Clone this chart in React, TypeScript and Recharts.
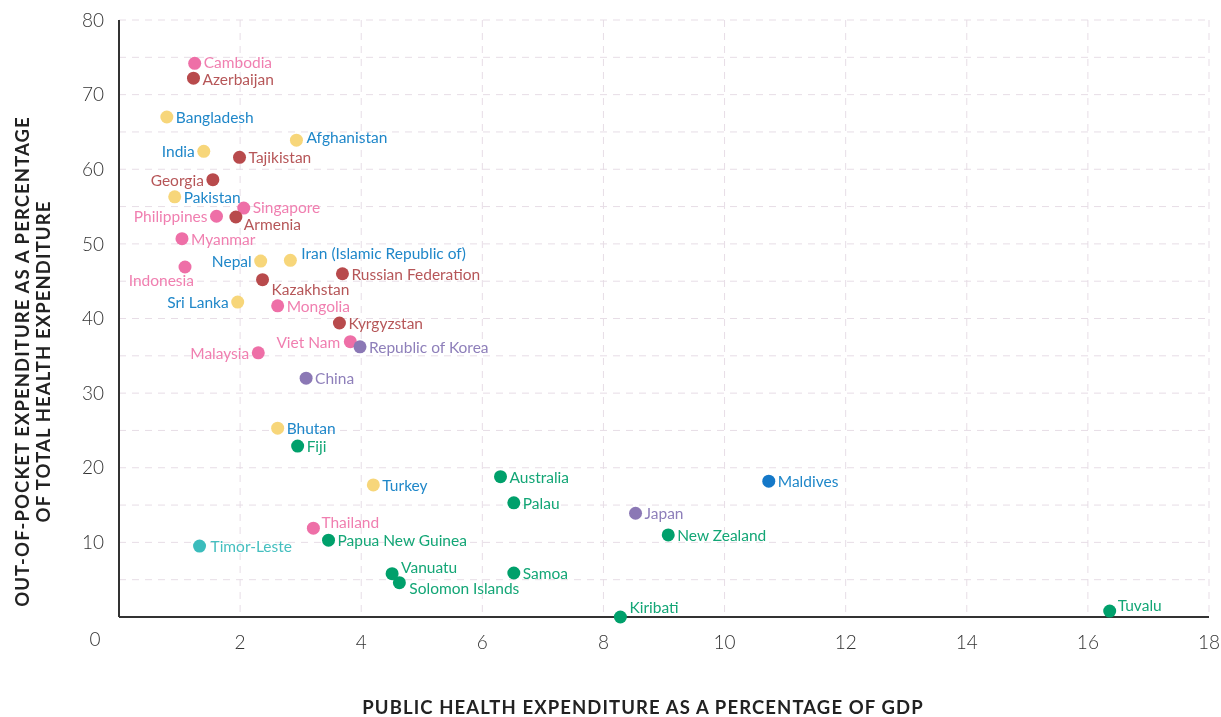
import React from 'react';
import { ScatterChart, Scatter, XAxis, YAxis, CartesianGrid } from 'recharts';

// Public health expenditure (% of GDP) vs out-of-pocket expenditure (% of total health expenditure)
const southAsiaNames = ['Bangladesh', 'Afghanistan', 'India', 'Pakistan', 'Nepal', 'Iran (Islamic Republic of)', 'Sri Lanka', 'Bhutan', 'Turkey'];
const southAsiaPublic = [0.79, 2.93, 1.4, 0.92, 2.34, 2.83, 1.96, 2.62, 4.2];
const southAsiaOop = [67.0, 63.9, 62.4, 56.3, 47.7, 47.8, 42.2, 25.3, 17.7];

const maldivesNames = ['Maldives'];
const maldivesPublic = [10.73];
const maldivesOop = [18.2];

const southeastNames = ['Cambodia', 'Singapore', 'Philippines', 'Myanmar', 'Indonesia', 'Mongolia', 'Viet Nam', 'Malaysia', 'Thailand'];
const southeastPublic = [1.25, 2.06, 1.61, 1.04, 1.09, 2.62, 3.82, 2.3, 3.21];
const southeastOop = [74.2, 54.8, 53.7, 50.7, 46.9, 41.7, 36.9, 35.4, 11.9];

const centralNames = ['Azerbaijan', 'Tajikistan', 'Georgia', 'Armenia', 'Russian Federation', 'Kazakhstan', 'Kyrgyzstan'];
const centralPublic = [1.23, 1.99, 1.55, 1.93, 3.69, 2.37, 3.64];
const centralOop = [72.2, 61.6, 58.6, 53.6, 46.0, 45.2, 39.4];

const eastNames = ['Republic of Korea', 'China', 'Japan'];
const eastPublic = [3.98, 3.09, 8.53];
const eastOop = [36.2, 32.0, 13.9];

const pacificNames = ['Fiji', 'Australia', 'Palau', 'New Zealand', 'Papua New Guinea', 'Vanuatu', 'Samoa', 'Solomon Islands', 'Kiribati', 'Tuvalu'];
const pacificPublic = [2.95, 6.3, 6.52, 9.07, 3.46, 4.51, 6.52, 4.63, 8.28, 16.36];
const pacificOop = [22.9, 18.8, 15.3, 11.0, 10.3, 5.8, 5.9, 4.6, 0.0, 0.8];

const timorNames = ['Timor-Leste'];
const timorPublic = [1.33];
const timorOop = [9.5];

const xTicks = [0, 2, 4, 6, 8, 10, 12, 14, 16, 18];
const yTicks = [10, 20, 30, 40, 50, 60, 70, 80];
const gridX = [2, 4, 6, 8, 10, 12, 14, 16, 18];
const gridY = [5, 10, 15, 20, 25, 30, 35, 40, 45, 50, 55, 60, 65, 70, 75, 80];

const toPoints = (names: string[], xs: number[], ys: number[]) =>
  names.map((name, i) => ({ name, x: xs[i], y: ys[i] }));

// where each label sits relative to its dot (default: right of the dot)
const placement: Record<string, { dx: number; dy: number; anchor?: string }> = {
  Cambodia: { dx: 9, dy: -1 },
  Azerbaijan: { dx: 9, dy: 1 },
  India: { dx: -9, dy: 0, anchor: 'end' },
  Georgia: { dx: -9, dy: 0, anchor: 'end' },
  Philippines: { dx: -9, dy: 0, anchor: 'end' },
  Nepal: { dx: -9, dy: 0, anchor: 'end' },
  'Sri Lanka': { dx: -9, dy: 0, anchor: 'end' },
  Malaysia: { dx: -9, dy: 0, anchor: 'end' },
  'Viet Nam': { dx: -10, dy: 0, anchor: 'end' },
  Indonesia: { dx: 9, dy: 13, anchor: 'end' },
  Singapore: { dx: 9, dy: -1 },
  Armenia: { dx: 8, dy: 7 },
  Kazakhstan: { dx: 9, dy: 9 },
  Afghanistan: { dx: 10, dy: -3 },
  'Iran (Islamic Republic of)': { dx: 11, dy: -7 },
  Thailand: { dx: 8, dy: -6 },
  Vanuatu: { dx: 9, dy: -7 },
  'Solomon Islands': { dx: 10, dy: 5 },
  Kiribati: { dx: 9, dy: -10 },
  Tuvalu: { dx: 8, dy: -6 },
  'Timor-Leste': { dx: 11, dy: 0 },
};

const FONT = 'Lato, "Open Sans", sans-serif';

const makeShape = (dotColor: string, textColor: string) => (props: any) => {
  const { cx, cy, payload } = props;
  const p = placement[payload.name] ?? { dx: 9, dy: 0 };
  return (
    <g>
      <circle cx={cx} cy={cy} r={6.5} fill={dotColor} />
      <text
        x={cx + p.dx}
        y={cy + p.dy}
        textAnchor={p.anchor ?? 'start'}
        dominantBaseline="central"
        fill={textColor}
        fontSize={15.5}
        fontFamily={FONT}
      >
        {payload.name}
      </text>
    </g>
  );
};

const XTick = (props: any) => {
  const { x, y, payload } = props;
  const isZero = payload.value === 0;
  return (
    <text
      x={isZero ? x - 24 : x}
      y={isZero ? y - 3 : y}
      dy="0.71em"
      textAnchor="middle"
      fill="#333"
      fontSize={19}
      fontWeight={300}
      fontFamily={FONT}
    >
      {payload.value}
    </text>
  );
};

const XTitle = (props: any) => {
  const { viewBox } = props;
  const cx = viewBox.x + viewBox.width / 2 - 21;
  return (
    <text x={cx} y={viewBox.y + viewBox.height - 3} textAnchor="middle" fill="#222"
      fontSize={18.5} fontWeight={700} letterSpacing={1.1} fontFamily={FONT}>
      PUBLIC HEALTH EXPENDITURE AS A PERCENTAGE OF GDP
    </text>
  );
};

const YTitle = (props: any) => {
  const { viewBox } = props;
  const cy = viewBox.y + viewBox.height / 2 + 43;
  return (
    <g>
      <text transform={`translate(29, ${cy}) rotate(-90)`} textAnchor="middle" fill="#222"
        fontSize={18.5} fontWeight={700} letterSpacing={1.1} fontFamily={FONT}>
        OUT-OF-POCKET EXPENDITURE AS A PERCENTAGE
      </text>
      <text transform={`translate(50, ${cy}) rotate(-90)`} textAnchor="middle" fill="#222"
        fontSize={18.5} fontWeight={700} letterSpacing={1.1} fontFamily={FONT}>
        OF TOTAL HEALTH EXPENDITURE
      </text>
    </g>
  );
};

export default function App() {
  return (
    <div style={{ position: 'fixed', top: 0, left: 0, width: 1221, height: 717 }}>
      <ScatterChart width={1221} height={717} margin={{ top: 20, right: 12, left: 0, bottom: 0 }}>
        <CartesianGrid
          stroke="#e7dde6"
          strokeDasharray="7 6"
          horizontalValues={gridY}
          verticalValues={gridX}
        />
        <XAxis
          type="number"
          dataKey="x"
          domain={[0, 18]}
          ticks={xTicks}
          height={100}
          tickSize={0}
          tickMargin={19}
          tick={<XTick />}
          axisLine={{ stroke: '#333', strokeWidth: 2 }}
          label={<XTitle />}
        />
        <YAxis
          type="number"
          dataKey="y"
          domain={[0, 80]}
          ticks={yTicks}
          width={119}
          tickSize={0}
          tickMargin={15}
          tick={{ fill: '#333', fontSize: 19, fontWeight: 300, fontFamily: FONT }}
          axisLine={{ stroke: '#333', strokeWidth: 2 }}
          label={<YTitle />}
        />
        <Scatter data={toPoints(southAsiaNames, southAsiaPublic, southAsiaOop)} shape={makeShape('#f7d67a', '#1f87c9')} isAnimationActive={false} />
        <Scatter data={toPoints(maldivesNames, maldivesPublic, maldivesOop)} shape={makeShape('#1478c8', '#1f87c9')} isAnimationActive={false} />
        <Scatter data={toPoints(southeastNames, southeastPublic, southeastOop)} shape={makeShape('#ee6fa7', '#f07fb0')} isAnimationActive={false} />
        <Scatter data={toPoints(centralNames, centralPublic, centralOop)} shape={makeShape('#b84a4c', '#b65658')} isAnimationActive={false} />
        <Scatter data={toPoints(eastNames, eastPublic, eastOop)} shape={makeShape('#8b78b5', '#8e7fba')} isAnimationActive={false} />
        <Scatter data={toPoints(pacificNames, pacificPublic, pacificOop)} shape={makeShape('#00a06b', '#13a676')} isAnimationActive={false} />
        <Scatter data={toPoints(timorNames, timorPublic, timorOop)} shape={makeShape('#3bbcbc', '#45bfbf')} isAnimationActive={false} />
      </ScatterChart>
    </div>
  );
}
